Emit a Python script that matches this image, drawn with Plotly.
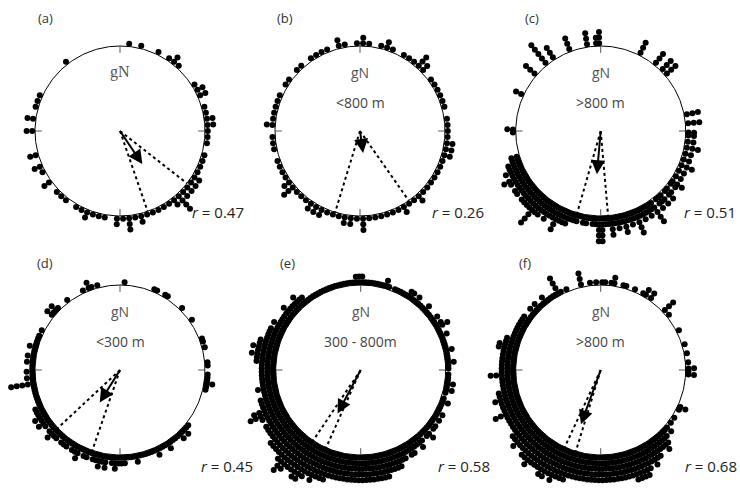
import numpy as np
import plotly.graph_objects as go

# ---------------- data ----------------
# stack heights per angular bin (bins run clockwise from grid north;
# bin width = 360 / number of bins)
panel_letters = ["(a)", "(b)", "(c)", "(d)", "(e)", "(f)"]
sub_labels = ["", "<800 m", ">800 m", "<300 m", "300 - 800m", ">800 m"]
r_values = [0.47, 0.26, 0.51, 0.45, 0.58, 0.68]
mean_dir = [146, 172, 185, 212, 208, 200]      # degrees
ci_low = [128, 145, 175, 199, 204, 197]         # degrees
ci_high = [161, 197, 196, 227, 214, 205]        # degrees

counts_a = [0,1,0,1,0,0,1,0,1,2,
            1,0,0,0,1,2,2,0,1,1,
            2,2,1,1,1,0,1,1,1,1,
            2,2,2,2,4,2,1,1,1,1,
            1,2,1,3,1,2,0,1,1,1,
            2,1,1,0,1,1,1,0,2,0,
            1,2,0,2,0,0,0,2,0,2,
            0,1,1,1,0,0,0,0,0,0,
            1,0,0,0,0,0,0,0,0,0]
counts_b = [2,1,0,1,2,1,0,1,1,1,
            3,2,0,1,1,1,1,1,1,0,
            1,1,1,1,2,2,2,1,1,1,
            1,1,1,1,2,1,1,2,1,1,
            1,1,1,1,3,1,2,2,1,1,
            1,2,2,2,1,1,1,3,2,1,
            1,1,1,0,1,1,1,0,2,1,
            1,1,1,1,0,1,1,0,1,1,
            0,1,1,1,1,0,2,1,0,1]
counts_c = [0,0,0,0,0,0,0,0,0,0,
            0,0,0,3,0,0,0,0,0,3,
            0,0,3,0,3,0,0,0,0,0,
            0,0,0,0,0,0,0,0,0,3,
            0,0,3,0,0,2,2,0,2,0,
            3,0,2,0,2,0,3,0,2,0,
            2,0,3,2,0,2,3,0,3,2,
            3,0,5,2,3,2,3,2,5,2,
            3,2,4,2,3,2,4,2,2,7,
            7,2,2,1,2,2,1,2,2,2,
            3,3,3,5,3,3,4,3,4,4,
            7,4,4,4,4,3,4,4,3,4,
            5,3,4,3,3,2,2,0,0,0,
            0,0,0,0,1,2,0,0,0,0,
            0,0,0,0,0,0,0,2,0,0,
            0,0,0,0,0,3,0,0,0,0,
            5,0,0,3,0,0,0,0,0,3,
            0,0,0,0,0,3,0,0,2,3]
counts_d = [0,1,0,0,0,0,0,0,0,0,
            0,1,1,0,0,1,1,0,0,0,
            0,0,1,0,0,0,0,1,0,0,
            0,0,0,0,1,1,0,1,0,0,
            0,0,1,1,0,0,1,1,1,2,
            1,1,0,0,0,0,0,0,0,0,
            0,0,0,0,1,1,2,1,2,1,
            1,1,1,2,1,1,1,2,1,1,
            1,1,1,1,2,1,1,1,2,2,
            2,3,2,1,3,2,3,2,2,1,
            2,2,1,3,2,2,1,2,2,2,
            1,2,2,3,2,1,2,3,2,3,
            2,2,2,1,1,1,1,1,1,1,
            5,1,2,1,2,1,1,2,1,2,
            1,1,2,1,1,1,1,0,1,0,
            0,0,0,0,2,1,2,1,0,0,
            0,1,0,0,0,0,0,1,0,2,
            1,0,1,0,0,0,0,0,0,0]
counts_e = [2,1,1,1,1,1,1,1,2,1,
            0,1,1,1,1,1,2,2,1,2,
            1,1,1,2,1,1,1,2,1,2,
            3,1,1,2,1,1,1,1,2,1,
            1,1,2,1,1,0,1,1,1,2,
            1,2,1,0,1,2,1,1,1,2,
            1,2,1,2,2,1,3,2,1,2,
            3,2,2,3,3,2,3,3,4,4,
            4,4,5,5,6,8,6,5,6,6,
            6,6,6,6,7,7,6,9,8,7,
            8,7,7,6,7,10,8,7,7,8,
            9,7,6,6,6,6,5,5,5,5,
            4,5,9,8,4,4,4,3,3,4,
            3,3,3,3,3,3,3,4,4,5,
            4,5,4,4,3,3,3,3,2,3,
            2,2,2,2,3,2,2,2,3,2,
            2,1,1,1,1,1,1,1,1,1,
            1,1,1,1,1,1,1,1,2,2]
counts_f = [1,1,0,1,2,0,0,1,1,0,
            0,1,0,0,1,2,0,2,0,0,
            0,0,0,3,0,1,0,0,0,0,
            0,1,0,0,0,0,1,0,0,1,
            0,0,1,0,2,1,2,0,0,0,
            0,0,0,0,0,0,0,2,1,0,
            0,1,0,1,0,2,1,2,3,4,
            3,3,4,4,5,4,5,6,6,8,
            6,6,6,7,7,6,6,6,7,6,
            8,7,6,8,7,7,7,9,7,7,
            10,7,7,6,8,7,6,6,6,7,
            6,6,5,5,6,5,5,4,4,4,
            4,4,6,4,4,4,6,4,4,3,
            3,3,3,7,3,3,3,3,3,3,
            3,4,4,3,3,2,2,2,2,2,
            2,2,2,1,1,2,1,2,1,1,
            2,1,1,1,1,4,1,0,1,0,
            0,0,0,3,0,0,1,0,1,0]
all_counts = [counts_a, counts_b, counts_c, counts_d, counts_e, counts_f]

# ---------------- layout constants ----------------
W, H = 740, 503
RADIUS_PX = 85.0
HALF = 1.3                      # axis half-range in circle radii
centers_px = [(120, 131), (360, 131), (600.7, 131),
              (120, 370), (360.7, 370), (600.7, 370)]
letter_off = [(-75, 113), (-75, 113), (-69, 113), (-75, 107), (-73, 107), (-76, 107)]
rlab_off = [(70, -81), (70, -81), (81, -81), (79, -96), (75, -96), (82, -96)]
R0 = 1 + 2.8 / RADIUS_PX        # first dot row
STEP = 5.6 / RADIUS_PX          # radial stacking step
FONT = "Open Sans"

fig = go.Figure()
annotations = []
for i in range(6):
    cx, cy = centers_px[i]
    half_px = HALF * RADIUS_PX
    xd = [(cx - half_px) / W, (cx + half_px) / W]
    yc = H - cy
    yd = [(yc - half_px) / H, (yc + half_px) / H]
    sfx = "" if i == 0 else str(i + 1)
    xa, ya = "x" + sfx, "y" + sfx
    fig.update_layout(**{
        "xaxis" + sfx: dict(domain=xd, range=[-HALF, HALF], visible=False, fixedrange=True, anchor=ya),
        "yaxis" + sfx: dict(domain=yd, range=[-HALF, HALF], visible=False, fixedrange=True, anchor=xa),
    })

    # circle
    t = np.radians(np.linspace(0, 360, 361))
    fig.add_trace(go.Scatter(x=np.sin(t), y=np.cos(t), mode="lines",
                             line=dict(color="black", width=1), xaxis=xa, yaxis=ya,
                             hoverinfo="skip"))
    # ticks at N, E, S, W
    tx, ty = [], []
    for a in [0, 90, 180, 270]:
        ar = np.radians(a)
        tx += [0.92 * np.sin(ar), 1.0 * np.sin(ar), None]
        ty += [0.92 * np.cos(ar), 1.0 * np.cos(ar), None]
    fig.add_trace(go.Scatter(x=tx, y=ty, mode="lines", line=dict(color="#555", width=1),
                             xaxis=xa, yaxis=ya, hoverinfo="skip"))
    # confidence lines
    for a in [ci_low[i], ci_high[i]]:
        ar = np.radians(a)
        fig.add_trace(go.Scatter(x=[0, np.sin(ar)], y=[0, np.cos(ar)], mode="lines",
                                 line=dict(color="black", width=2, dash="dot"),
                                 xaxis=xa, yaxis=ya, hoverinfo="skip"))
    # stacked dots
    counts = all_counts[i]
    bin_deg = 360.0 / len(counts)
    xs, ys = [], []
    for b, n in enumerate(counts):
        th = np.radians(b * bin_deg + bin_deg / 2)
        for k in range(n):
            rr = R0 + k * STEP
            xs.append(rr * np.sin(th))
            ys.append(rr * np.cos(th))
    fig.add_trace(go.Scatter(x=xs, y=ys, mode="markers",
                             marker=dict(size=6, color="black", line=dict(width=0)),
                             cliponaxis=False, xaxis=xa, yaxis=ya, hoverinfo="skip"))
    # mean vector arrow
    md = np.radians(mean_dir[i])
    annotations.append(dict(x=r_values[i] * np.sin(md), y=r_values[i] * np.cos(md),
                            ax=0, ay=0, xref=xa, yref=ya, axref=xa, ayref=ya,
                            text="", showarrow=True, arrowhead=2, arrowsize=1.4,
                            arrowwidth=2, arrowcolor="black", standoff=0))
    # texts
    annotations.append(dict(x=0, y=59 / RADIUS_PX, xref=xa, yref=ya, text="gN", showarrow=False,
                            font=dict(family="Liberation Serif" if i == 0 else FONT,
                                      size=16 if i == 0 else 14, color="#555"),
                            xanchor="center", yanchor="middle"))
    if sub_labels[i]:
        annotations.append(dict(x=0, y=29 / RADIUS_PX, xref=xa, yref=ya, text=sub_labels[i],
                                showarrow=False, font=dict(family=FONT, size=14, color="#444"),
                                xanchor="center", yanchor="middle"))
    lx, ly = letter_off[i]
    annotations.append(dict(x=(cx + lx) / W, y=(yc + ly) / H, xref="paper", yref="paper",
                            text=panel_letters[i], showarrow=False,
                            font=dict(family=FONT, size=13, color="#333"),
                            xanchor="center", yanchor="middle"))
    rx, ry = rlab_off[i]
    annotations.append(dict(x=(cx + rx) / W, y=(yc + ry) / H, xref="paper", yref="paper",
                            text="<i>r</i> = %.2f" % r_values[i], showarrow=False,
                            font=dict(family=FONT, size=15, color="#222"),
                            xanchor="left", yanchor="middle"))

fig.update_layout(width=W, height=H, margin=dict(l=0, r=0, t=0, b=0),
                  paper_bgcolor="white", plot_bgcolor="rgba(0,0,0,0)",
                  showlegend=False, hovermode=False, annotations=annotations)
fig.write_html("out.html", config={"displayModeBar": False},
               post_script="document.body.style.margin='0';document.body.style.overflow='hidden';")
